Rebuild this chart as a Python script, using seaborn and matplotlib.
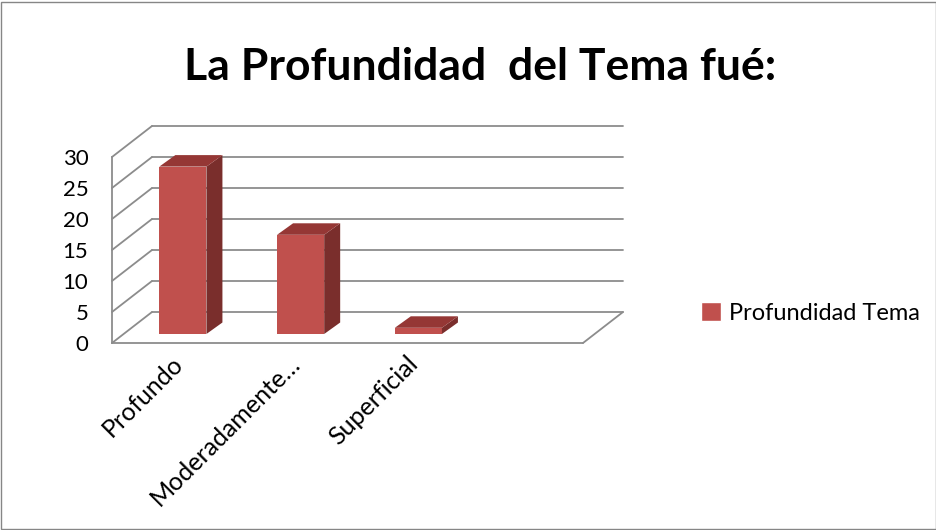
import matplotlib
matplotlib.use("Agg")
import matplotlib.pyplot as plt
import seaborn as sns
from matplotlib.patches import Polygon, Rectangle, Patch

# data
categorias = ["Profundo", "Moderadamente…", "Superficial"]
valores = [27, 16, 1]
serie = "Profundidad Tema"
yticks = [0, 5, 10, 15, 20, 25, 30]

sns.set_style("white")
plt.rcParams['font.family'] = ['Lato', 'DejaVu Sans']
plt.rcParams['text.color'] = 'black'
plt.rcParams['xtick.labelcolor'] = 'black'
plt.rcParams['ytick.labelcolor'] = 'black'

fig = plt.figure(figsize=(9.37, 5.3), dpi=100)
W, H = 937, 530
# front plane of the fake 3d box (pixels)
x0, x1, yb, yt = 112, 583, 343, 157
ax = fig.add_axes([x0 / W, 1 - yb / H, (x1 - x0) / W, (yb - yt) / H])

rojo, techo, lado = "#C0504D", "#953735", "#7A2E2C"
grid = "#8C8C8C"

sns.barplot(x=categorias, y=valores, color=rojo, width=0.4, saturation=1, ax=ax)
ax.set_xlim(-0.5, 3.5)
ax.set_ylim(0, 30)

# pixel -> data conversion
px_x = 4 / (x1 - x0)
px_y = 30 / (yb - yt)
back_dx, back_dy = 40 * px_x, 31 * px_y
fr_dx, fr_dy = 12 * px_x, 9 * px_y
dep_dx, dep_dy = 16 * px_x, 11.5 * px_y

# back wall + side wall + floor
for t in yticks:
    ax.plot([-0.5 + back_dx, 3.5 + back_dx], [t + back_dy, t + back_dy], color=grid, lw=1.3, clip_on=False, zorder=0)
    ax.plot([-0.5, -0.5 + back_dx], [t, t + back_dy], color=grid, lw=1.3, clip_on=False, zorder=0)
ax.plot([-0.5, 3.5], [0, 0], color=grid, lw=1.3, clip_on=False, zorder=0)
ax.plot([3.5, 3.5 + back_dx], [0, back_dy], color=grid, lw=1.3, clip_on=False, zorder=0)

# turn flat bars into boxes
for p in list(ax.patches):
    x, w, h = p.get_x(), p.get_width(), p.get_height()
    bx, by = x + fr_dx, fr_dy
    p.set_xy((bx, by))
    p.set_zorder(3)
    p.set_edgecolor("none")
    side = Polygon([(bx + w, by), (bx + w + dep_dx, by + dep_dy), (bx + w + dep_dx, by + h + dep_dy), (bx + w, by + h)],
                   closed=True, fc=lado, ec="none", zorder=3, clip_on=False)
    top = Polygon([(bx, by + h), (bx + dep_dx, by + h + dep_dy), (bx + w + dep_dx, by + h + dep_dy), (bx + w, by + h)],
                  closed=True, fc=techo, ec="none", zorder=3, clip_on=False)
    ax.add_patch(side)
    ax.add_patch(top)

for s in ["top", "right", "bottom"]:
    ax.spines[s].set_visible(False)
ax.spines["left"].set_color(grid)
ax.spines["left"].set_linewidth(1.3)

ax.set_yticks(yticks)
ax.set_xticks([-0.5, 0.5, 1.5, 2.5, 3.5], minor=False)
ax.set_xticklabels([])
ax.set_xticks([0, 1, 2], minor=True)
ax.set_xticklabels(categorias, minor=True, rotation=45, ha="right", rotation_mode="anchor", fontsize=18)
ax.tick_params(axis="x", which="minor", length=0, pad=6)
ax.tick_params(axis="x", which="major", length=8, color=grid, width=1.3, direction="out")
ax.tick_params(axis="y", length=7, color=grid, width=1.3, labelsize=16, pad=10)
ax.set_xlabel("")
ax.set_ylabel("")

ax.legend(handles=[Patch(fc=rojo, label=serie)], loc="center left",
          bbox_to_anchor=(701 / W, 1 - 313 / H), bbox_transform=fig.transFigure,
          frameon=False, fontsize=17, handlelength=0.85, handleheight=0.85, handletextpad=0.35,
          borderpad=0, borderaxespad=0)

fig.text(480 / W, 1 - 67 / H, "La Profundidad  del Tema fué:", ha="center", va="center",
         fontsize=32, fontweight="bold")

fig.patches.append(Rectangle((0.5 / W, 1.5 / H), 1 - 1.5 / W, 1 - 3 / H, transform=fig.transFigure,
                             fill=False, ec="#868686", lw=1))

fig.savefig("out.png", dpi=100)
